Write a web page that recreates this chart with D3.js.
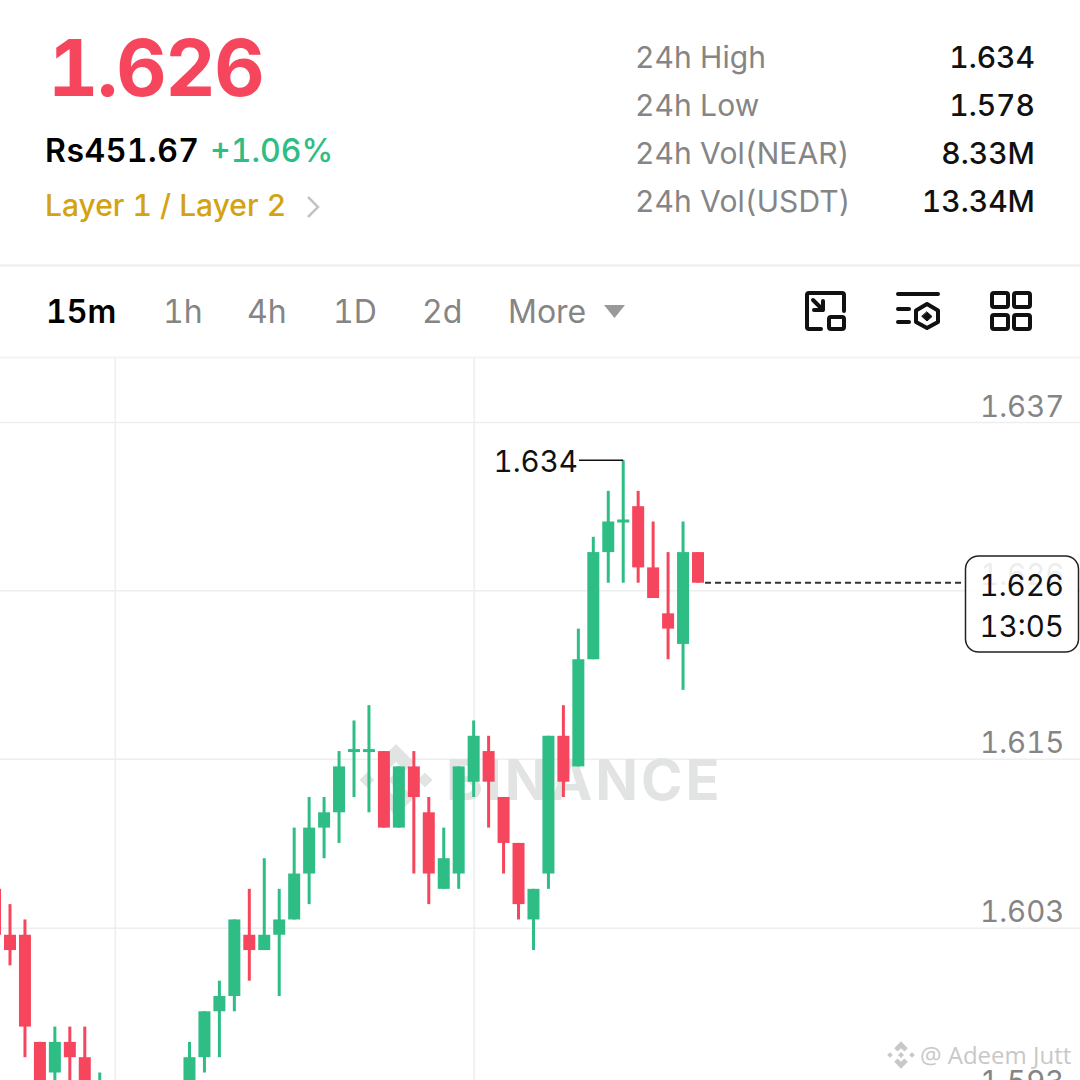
<!DOCTYPE html>
<html>
<head>
<meta charset="utf-8">
<script src="https://d3js.org/d3.v7.min.js"></script>
<style>
  html, body { margin: 0; padding: 0; background: #fff; }
  svg { display: block; font-family: Inter, "Noto Sans", sans-serif; font-feature-settings: "tnum" 1; }
</style>
</head>
<body>
<div id="canvas"></div>
<script>
// candles (slots 7-11 are below the visible area)
const slots =  [-1, 0, 1, 2, 3, 4, 5, 6, 12, 13, 14, 15, 16, 17, 18, 19, 20, 21, 22, 23, 24, 25, 26, 27, 28, 29, 30, 31, 32, 33, 34, 35, 36, 37, 38, 39, 40, 41, 42, 43, 44, 45, 46];
const opens =  [1.606, 1.603, 1.603, 1.596, 1.594, 1.596, 1.595, 1.590, 1.591, 1.595, 1.598, 1.599, 1.603, 1.602, 1.603, 1.604, 1.607, 1.610, 1.611, 1.615, 1.615, 1.615, 1.610, 1.614, 1.611, 1.606, 1.607, 1.613, 1.615, 1.612, 1.609, 1.604, 1.607, 1.616, 1.614, 1.621, 1.628, 1.630, 1.631, 1.627, 1.624, 1.622, 1.628];
const highs =  [1.606, 1.605, 1.604, 1.596, 1.597, 1.597, 1.597, 1.594, 1.596, 1.598, 1.600, 1.604, 1.606, 1.608, 1.606, 1.610, 1.612, 1.612, 1.615, 1.617, 1.618, 1.615, 1.614, 1.615, 1.612, 1.610, 1.614, 1.617, 1.616, 1.612, 1.609, 1.606, 1.616, 1.618, 1.623, 1.629, 1.632, 1.634, 1.632, 1.630, 1.628, 1.630, 1.628];
const lows =   [1.603, 1.601, 1.595, 1.590, 1.591, 1.590, 1.590, 1.589, 1.591, 1.594, 1.595, 1.598, 1.600, 1.602, 1.599, 1.604, 1.605, 1.608, 1.609, 1.612, 1.611, 1.610, 1.610, 1.607, 1.605, 1.606, 1.606, 1.612, 1.610, 1.607, 1.604, 1.602, 1.606, 1.612, 1.614, 1.621, 1.626, 1.626, 1.626, 1.625, 1.621, 1.619, 1.626];
const closes = [1.603, 1.602, 1.597, 1.591, 1.596, 1.595, 1.591, 1.592, 1.595, 1.598, 1.599, 1.604, 1.602, 1.603, 1.604, 1.607, 1.610, 1.611, 1.614, 1.615, 1.615, 1.610, 1.614, 1.612, 1.607, 1.608, 1.614, 1.616, 1.613, 1.609, 1.605, 1.606, 1.616, 1.613, 1.621, 1.628, 1.630, 1.630, 1.627, 1.625, 1.623, 1.628, 1.626];

const gridPrices = [1.6365, 1.6255, 1.6145, 1.60345, 1.5924];
const gridLabels = ["1.637", "1.626", "1.615", "1.603", "1.593"];
const gridSlots = [7, 31];

const lastPrice = 1.626;
const highPrice = 1.634;
const countdown = "13:05";

const statLabels = ["24h High", "24h Low", "24h Vol(NEAR)", "24h Vol(USDT)"];
const statValues = ["1.634", "1.578", "8.33M", "13.34M"];
const tabLabels = ["15m", "1h", "4h", "1D", "2d", "More"];
const tabX = [46, 163, 247, 333, 422, 508];

const GREEN = "#2ebd85", RED = "#f6465d", GREY = "#858585", GOLD = "#d4a30f", GRID = "#eeeeee";

const svg = d3.select("#canvas").append("svg").attr("width", 1080).attr("height", 1080);

const x = d3.scaleLinear().domain([0, 46]).range([10, 698]);
const y = d3.scaleLinear().domain([1.6365, 1.5924]).range([422, 1097]);

// header
svg.append("text").attr("x", 48).attr("y", 96).attr("font-size", 78).attr("font-weight", 700).attr("letter-spacing", -1.5).attr("fill", RED).text("1.626");
svg.append("text").attr("x", 45).attr("y", 162).attr("font-size", 32).attr("font-weight", 600).attr("letter-spacing", 0.5).attr("fill", "#000").text("Rs451.67");
svg.append("text").attr("x", 210).attr("y", 162).attr("font-size", 32).attr("font-weight", 500).attr("fill", GREEN).text("+1.06%");
svg.append("text").attr("x", 45).attr("y", 216).attr("font-size", 30).attr("font-weight", 500).attr("fill", GOLD).text("Layer 1 / Layer 2");
svg.append("path").attr("d", "M308 197 L318 207 L308 217").attr("fill", "none").attr("stroke", "#c4c4c4").attr("stroke-width", 2.5);

svg.selectAll(".stat-label").data(statLabels).join("text")
  .attr("class", "stat-label")
  .attr("x", 635).attr("y", (d, i) => 68 + i * 48)
  .attr("font-size", 30).attr("letter-spacing", 0.1).attr("fill", GREY).text(d => d);
svg.selectAll(".stat-value").data(statValues).join("text")
  .attr("class", "stat-value")
  .attr("x", 1035).attr("y", (d, i) => 68 + i * 48)
  .attr("text-anchor", "end").attr("font-size", 30).attr("font-weight", 500).attr("fill", "#111").text(d => d);

svg.append("line").attr("x1", 0).attr("x2", 1080).attr("y1", 265.5).attr("y2", 265.5).attr("stroke", GRID).attr("stroke-width", 2);
svg.append("line").attr("x1", 0).attr("x2", 1080).attr("y1", 357.5).attr("y2", 357.5).attr("stroke", "#f3f3f3").attr("stroke-width", 2);

// timeframe tabs
svg.selectAll(".tab").data(tabLabels).join("text")
  .attr("class", "tab")
  .attr("x", (d, i) => tabX[i]).attr("y", 323)
  .attr("font-size", 32).attr("font-weight", (d, i) => i === 0 ? 600 : 400)
  .attr("fill", (d, i) => i === 0 ? "#000" : GREY).text(d => d);
svg.append("path").attr("d", "M604 305 H625 L614.5 318 Z").attr("fill", "#999");

// toolbar icons
const icons = svg.append("g").attr("fill", "none").attr("stroke", "#111").attr("stroke-width", 4).attr("stroke-linecap", "round").attr("stroke-linejoin", "round");
icons.append("path").attr("d", "M821 329 H809 Q807 329 807 327 V295 Q807 293 809 293 H842 Q844 293 844 295 V311");
icons.append("path").attr("d", "M813 300 L823 310 M823 301 V310 H814");
icons.append("rect").attr("x", 829).attr("y", 317).attr("width", 15).attr("height", 12).attr("rx", 2);
icons.append("path").attr("d", "M898 294 H938 M898 309 H909 M898 322 H909");
icons.append("path").attr("d", "M927 304 L938 310.5 V322 L927 328 L916 322 V310.5 Z");
icons.append("path").attr("d", "M927 312 L932 316.5 L927 321 L922 316.5 Z").attr("fill", "#111").attr("stroke-width", 1);
[[992, 293], [1014, 293], [992, 315], [1014, 315]].forEach(p => {
  icons.append("rect").attr("x", p[0]).attr("y", p[1]).attr("width", 16).attr("height", 14).attr("rx", 2);
});

// chart area
svg.append("defs").append("clipPath").attr("id", "plot")
  .append("rect").attr("x", 0).attr("y", 358).attr("width", 1080).attr("height", 722);
const plot = svg.append("g").attr("clip-path", "url(#plot)");

const yAxis = plot.append("g")
  .attr("transform", "translate(1080,0)")
  .call(d3.axisLeft(y).tickValues(gridPrices).tickFormat((d, i) => gridLabels[i]).tickSize(1080));
yAxis.select(".domain").remove();
yAxis.selectAll("line").attr("stroke", GRID).attr("stroke-width", 1.5);
yAxis.selectAll("text")
  .attr("x", -15.5).attr("dy", 0).attr("y", -6)
  .attr("text-anchor", "end").attr("font-size", 29.5).attr("font-family", "Inter, sans-serif").attr("fill", GREY);

const xAxis = plot.append("g")
  .attr("transform", "translate(0,1080)")
  .call(d3.axisTop(x).tickValues(gridSlots).tickFormat("").tickSize(722));
xAxis.select(".domain").remove();
xAxis.selectAll("line").attr("stroke", GRID).attr("stroke-width", 1.5);

// BINANCE watermark, sits under the candles
const mark = plot.append("g").attr("fill", "#e2e3e3");
mark.append("text").attr("x", 446).attr("y", 800).attr("font-size", 56).attr("font-weight", 700).attr("letter-spacing", 3).text("BINANCE");
function binanceLogo(g, cx, cy, s) {
  const diamond = (dx, dy, r) => `M${cx + dx * s} ${cy + (dy - r) * s} L${cx + (dx + r) * s} ${cy + dy * s} L${cx + dx * s} ${cy + (dy + r) * s} L${cx + (dx - r) * s} ${cy + dy * s} Z`;
  g.append("path").attr("d", diamond(-29, 0, 7.5));
  g.append("path").attr("d", diamond(29, 0, 7.5));
  g.append("path").attr("d", diamond(0, 0, 8));
  g.append("path").attr("d", `M${cx} ${cy - 36 * s} L${cx + 18 * s} ${cy - 18 * s} L${cx + 9 * s} ${cy - 9 * s} L${cx} ${cy - 18 * s} L${cx - 9 * s} ${cy - 9 * s} L${cx - 18 * s} ${cy - 18 * s} Z`);
  g.append("path").attr("d", `M${cx} ${cy + 36 * s} L${cx + 18 * s} ${cy + 18 * s} L${cx + 9 * s} ${cy + 9 * s} L${cx} ${cy + 18 * s} L${cx - 9 * s} ${cy + 9 * s} L${cx - 18 * s} ${cy + 18 * s} Z`);
}
binanceLogo(mark, 396, 780, 1);

// candles
const candles = slots.map((s, i) => ({ slot: s, o: opens[i], h: highs[i], l: lows[i], c: closes[i] }));
const up = d => d.c >= d.o;

plot.selectAll(".wick").data(candles).join("line")
  .attr("class", "wick")
  .attr("x1", d => x(d.slot)).attr("x2", d => x(d.slot))
  .attr("y1", d => y(d.h)).attr("y2", d => y(d.l))
  .attr("stroke", d => up(d) ? GREEN : RED).attr("stroke-width", 3);

plot.selectAll(".body").data(candles).join("rect")
  .attr("class", "body")
  .attr("x", d => x(d.slot) - 6).attr("width", 12)
  .attr("y", d => d.o === d.c ? y(d.c) - 2 : y(Math.max(d.o, d.c)))
  .attr("height", d => d.o === d.c ? 3 : Math.abs(y(d.o) - y(d.c)))
  .attr("fill", d => up(d) ? GREEN : RED);

// last price line and label box
plot.append("line")
  .attr("x1", x(46) + 7).attr("x2", 965).attr("y1", y(lastPrice)).attr("y2", y(lastPrice))
  .attr("stroke", "#333").attr("stroke-width", 2).attr("stroke-dasharray", "6 4");
plot.append("rect").attr("x", 965.5).attr("y", 556).attr("width", 113).attr("height", 96).attr("rx", 13)
  .attr("fill", "#fff").attr("fill-opacity", 0.85).attr("stroke", "#222").attr("stroke-width", 1.5);
plot.append("text").attr("x", 1064).attr("y", y(lastPrice) + 13).attr("text-anchor", "end").attr("font-size", 29.5).attr("fill", "#111").text(d3.format(".3f")(lastPrice));
plot.append("text").attr("x", 1064).attr("y", y(lastPrice) + 54).attr("text-anchor", "end").attr("font-size", 29.5).attr("fill", "#111").text(countdown);

// high marker
plot.append("path")
  .attr("d", `M${x(41)} ${y(highPrice)} H579`)
  .attr("fill", "none").attr("stroke", "#111").attr("stroke-width", 1.5);
plot.append("text").attr("x", 578).attr("y", y(highPrice) + 12).attr("text-anchor", "end").attr("font-size", 29.5).attr("fill", "#111").text(d3.format(".3f")(highPrice));

// corner credit
const credit = svg.append("g").attr("fill", "#c8c8c8");
binanceLogo(credit, 901, 1055, 0.38);
credit.append("text").attr("x", 920).attr("y", 1064).attr("font-size", 24).attr("font-family", "'Open Sans', sans-serif").text("@ Adeem Jutt");
</script>
</body>
</html>
